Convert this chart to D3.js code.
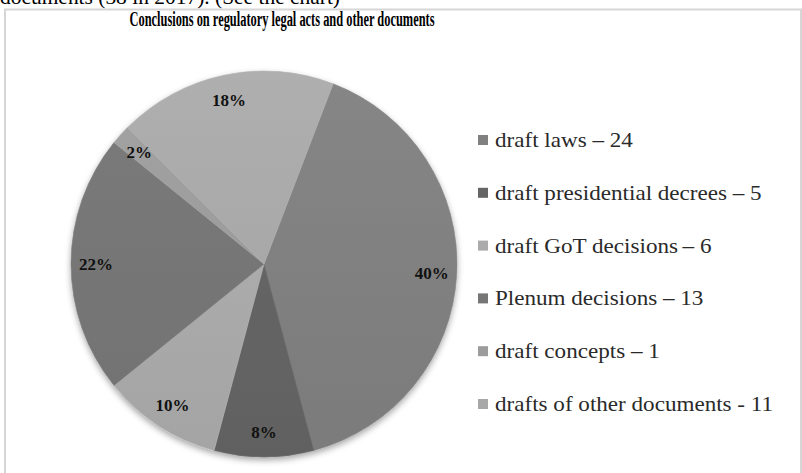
<!DOCTYPE html>
<html>
<head>
<meta charset="utf-8">
<script src="https://cdn.jsdelivr.net/npm/d3@7"></script>
<style>
  body { margin: 0; background: #fff; }
  svg { display: block; }
  text { font-family: "Liberation Serif", "DejaVu Serif", serif; }
</style>
</head>
<body>
<svg width="802" height="473"></svg>
<script>
// chart data
var categories = ["draft laws", "draft presidential decrees", "draft GoT decisions",
                  "Plenum decisions", "draft concepts", "drafts of other documents"],
    values = [24, 5, 6, 13, 1, 11],
    legendLabels = ["draft laws \u2013 24", "draft presidential decrees \u2013 5", "draft GoT decisions\u2009\u2013 6",
                    "Plenum decisions \u2013 13", "draft concepts \u2013 1", "drafts of other documents - 11"],
    colors = ["#808080", "#656565", "#ababab", "#767676", "#9c9c9c", "#a8a8a8"];

var svg = d3.select("svg"),
    width = +svg.attr("width"),
    height = +svg.attr("height");

// cut-off line of the surrounding document text
svg.append("text")
   .attr("x", 0).attr("y", 4)
   .attr("font-size", 22)
   .attr("textLength", 340).attr("lengthAdjust", "spacingAndGlyphs")
   .text("documents (38 in 2017). (See the chart)");

// chart frame
svg.append("rect")
   .attr("x", 5).attr("y", 9.5)
   .attr("width", 796).attr("height", 480)
   .attr("fill", "#fff")
   .attr("stroke", "#d6d6d6").attr("stroke-width", 2);

svg.append("text")
   .attr("x", 282).attr("y", 26)
   .attr("text-anchor", "middle")
   .attr("font-weight", "bold")
   .attr("font-size", 20)
   .attr("textLength", 305).attr("lengthAdjust", "spacingAndGlyphs")
   .text("Conclusions on regulatory legal acts and other documents");

var cx = 264, cy = 264, radius = 193,
    rot = 21 * Math.PI / 180,
    total = d3.sum(values),
    pct = d3.format(".0%");

var defs = svg.append("defs");
defs.append("filter").attr("id", "shadow")
    .attr("x", "-20%").attr("y", "-20%").attr("width", "140%").attr("height", "140%")
    .append("feDropShadow")
    .attr("dx", 0).attr("dy", 3).attr("stdDeviation", 3)
    .attr("flood-color", "#000").attr("flood-opacity", 0.35);

// soft vertical shading on each slice
colors.forEach(function(c, i) {
  var g = defs.append("linearGradient").attr("id", "grad" + i)
      .attr("gradientUnits", "userSpaceOnUse")
      .attr("x1", 0).attr("y1", -radius).attr("x2", 0).attr("y2", radius);
  g.append("stop").attr("offset", 0).attr("stop-color", d3.color(c).brighter(0.12));
  g.append("stop").attr("offset", 1).attr("stop-color", d3.color(c).darker(0.12));
});

var pie = d3.pie().sort(null).startAngle(rot).endAngle(rot + 2 * Math.PI),
    arcs = pie(values),
    arc = d3.arc().innerRadius(0).outerRadius(radius),
    labelArc = d3.arc().innerRadius(168).outerRadius(168);

var g = svg.append("g").attr("transform", "translate(" + cx + "," + cy + ")");

g.append("g").attr("filter", "url(#shadow)")
  .selectAll("path")
  .data(arcs)
  .enter().append("path")
  .attr("d", arc)
  .attr("fill", function(d, i) { return "url(#grad" + i + ")"; })
  .attr("stroke", function(d, i) { return d3.color(colors[i]).brighter(0.15); })
  .attr("stroke-width", 0.6);

g.selectAll("text.pct")
  .data(arcs)
  .enter().append("text")
  .attr("class", "pct")
  .attr("transform", function(d) { return "translate(" + labelArc.centroid(d) + ")"; })
  .attr("text-anchor", "middle")
  .attr("dy", "0.35em")
  .attr("font-weight", "bold")
  .attr("font-size", 17)
  .attr("fill", "#111")
  .text(function(d) { return pct(d.value / total); });

// legend
var ly = d3.scalePoint().domain(categories).range([140, 404]);

var lg = svg.append("g").selectAll("g")
  .data(categories)
  .enter().append("g")
  .attr("transform", function(d) { return "translate(478," + ly(d) + ")"; });

lg.append("rect")
  .attr("x", 0).attr("y", -5)
  .attr("width", 10).attr("height", 10)
  .attr("fill", function(d, i) { return colors[i]; });

lg.append("text")
  .attr("transform", "translate(17,7) scale(1.1,1)")
  .attr("font-size", 21)
  .attr("fill", "#2a2a2a")
  .text(function(d, i) { return legendLabels[i]; });
</script>
</body>
</html>
